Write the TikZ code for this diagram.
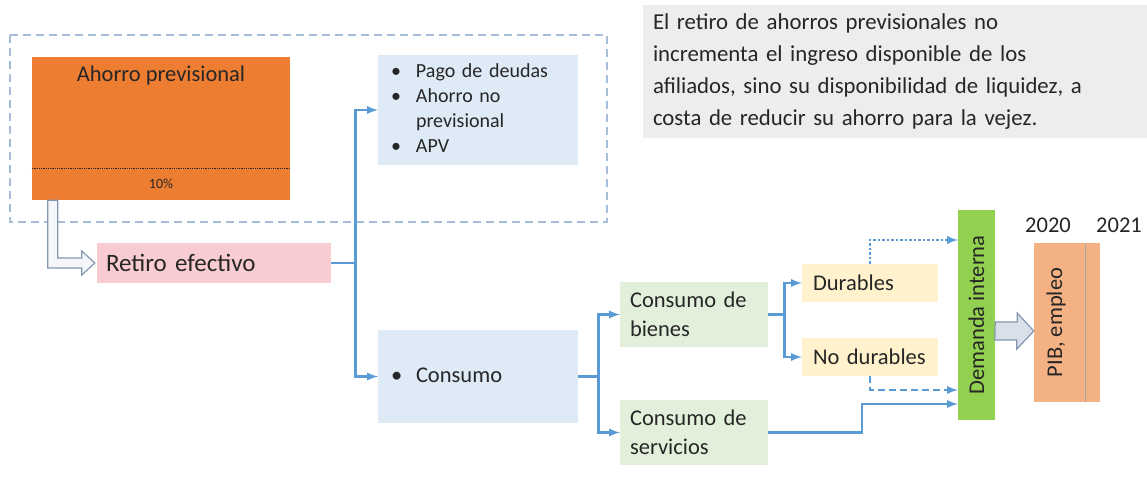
\documentclass[tikz,border=0pt]{standalone}
\usepackage{fontspec}
\setmainfont{Carlito}
\usepackage{xcolor}
\usetikzlibrary{positioning}
\usetikzlibrary{calc}
\definecolor{AHORRO-ORANGE}{HTML}{ED7D31}
\definecolor{RETIRO-PINK}{HTML}{F9CCD1}
\definecolor{DESTINO-BLUE}{HTML}{DEEBF7}
\definecolor{BIENES-GREEN}{HTML}{E2EFDA}
\definecolor{DURABLE-YELLOW}{HTML}{FFF2CC}
\definecolor{DEMANDA-GREEN}{HTML}{92D050}
\definecolor{PIB-ORANGE}{HTML}{F4B183}
\definecolor{NOTA-GRAY}{HTML}{EDEDED}
\definecolor{FLUJO-BLUE}{HTML}{5B9BD5}
\definecolor{MARCO-BLUE}{HTML}{A7BCD6}
\definecolor{HUECA-LINE}{HTML}{8497B0}
\definecolor{HUECA-FILL}{HTML}{D9E0EA}
\definecolor{HUECA-WHITE}{HTML}{F4F6F9}
\definecolor{TEXTO}{HTML}{262626}

\tikzset{
  caja/.style={rectangle,inner ysep=0pt,align=left,text=TEXTO},
  flujo/.style={->,draw=FLUJO-BLUE,line width=2.6pt},
  hueca/.style={draw=HUECA-LINE,fill=HUECA-FILL,line width=1.2pt,line join=miter}
}

\begin{document}
\begin{tikzpicture}[x=1pt,y=-1pt,every path/.style={>=latex},font=\fontsize{22.5}{29}\selectfont]
			\useasboundingbox (0,0) rectangle (1147,484);

			% draw frame
			\draw[MARCO-BLUE,line width=1.4pt,dash pattern=on 8pt off 5pt] (10,35) rectangle (607,222);

			% draw nodes
			\node (nota) at (895,71.5) [caja,fill=NOTA-GRAY,minimum height=133,text width=484,inner xsep=10,font=\fontsize{22.8}{32}\selectfont] {El retiro de ahorros previsionales no\\incrementa el ingreso disponible de los\\afiliados, sino su disponibilidad de liquidez, a\\costa de reducir su ahorro para la vejez.};
			\node (ahorro) at (161,128.5) [caja,fill=AHORRO-ORANGE,minimum width=258,minimum height=143] {};
			\node (ahorro_tit) at ($(ahorro.north)+(0,19)$) [text=TEXTO] {Ahorro previsional};
			\node (ahorro_pct) at ($(ahorro.south)+(0,-16)$) [text=TEXTO,font=\fontsize{14}{16}\selectfont] {10\%};
			\node (retiro) at (214,263) [caja,fill=RETIRO-PINK,minimum height=40,text width=216,inner xsep=9,font=\fontsize{25}{29}\selectfont] {Retiro efectivo};
			\node (destinos) at (478,110) [caja,fill=DESTINO-BLUE,minimum height=110,text width=174,inner xsep=13,font=\fontsize{20}{25}\selectfont] {%
				\begin{tabular}{@{}p{25pt}@{}l@{}}
				\textbullet & Pago de deudas\\
				\textbullet & Ahorro no\\
				            & previsional\\
				\textbullet & APV
				\end{tabular}};
			\node (consumo) at (478,376.5) [caja,fill=DESTINO-BLUE,minimum height=93,text width=174,inner xsep=13] {%
				\begin{tabular}{@{}p{25pt}@{}l@{}}
				\textbullet & Consumo
				\end{tabular}};
			\node (bienes) at (694,314.5) [caja,fill=BIENES-GREEN,minimum height=65,text width=128,inner xsep=10] {Consumo de\\bienes};
			\node (servicios) at (694,432.5) [caja,fill=BIENES-GREEN,minimum height=65,text width=128,inner xsep=10] {Consumo de\\servicios};
			\node (durables) at (870,283) [caja,fill=DURABLE-YELLOW,minimum height=38,text width=114,inner xsep=11] {Durables};
			\node (nodurables) at (870,357) [caja,fill=DURABLE-YELLOW,minimum height=38,text width=114,inner xsep=11] {No durables};
			\node (demanda) at (976.5,315) [caja,fill=DEMANDA-GREEN,minimum width=37,minimum height=210] {};
			\node (demanda_txt) at (demanda.center) [rotate=90,text=TEXTO] {Demanda interna};
			\node (pib) at (1067,322.5) [caja,fill=PIB-ORANGE,minimum width=66,minimum height=159] {};
			\node (pib_txt) at ($(pib.center)+(-11,0)$) [rotate=90,text=TEXTO] {PIB, empleo};
			\node (anio_a) at (1048,225) [text=TEXTO] {2020};
			\node (anio_b) at (1119,225) [text=TEXTO] {2021};

			% draw dividers
			\draw[densely dotted,TEXTO,line width=0.8pt] ($(ahorro.south west)+(0,-32)$) -- ($(ahorro.south east)+(0,-32)$);
			\draw[gray!70,line width=0.8pt] ($(pib.north east)+(-15,0)$) -- ($(pib.south east)+(-15,0)$);

			% draw arrows
			\draw[hueca,fill=HUECA-WHITE] ($(ahorro.south west)+(16,0)$) |- ($(retiro.west)+(-15,5)$) -- ++(0,7) -- ($(retiro.west)+(-2,0)$) -- ++(-13,-12) -- ++(0,7) -| ($(ahorro.south west)+(26,0)$) -- cycle;
			\draw[hueca] ($(demanda.east)+(0,7)$) -- ++(22,0) -- ++(0,-9) -- ($(pib.west)+(0,8.5)$) -- ++(-17,18) -- ++(0,-9) -- ++(-22,0) -- cycle;

			\draw[flujo] (retiro.east) -- ++(24,0) |- (destinos.west);
			\draw[flujo] (retiro.east) -- ++(24,0) |- (consumo.west);
			\draw[flujo] (consumo.east) -- ++(20,0) |- (bienes.west);
			\draw[flujo] (consumo.east) -- ++(20,0) |- (servicios.west);
			\draw[flujo] (bienes.east) -- ++(16,0) |- (durables.west);
			\draw[flujo] (bienes.east) -- ++(16,0) |- (nodurables.west);
			\draw[flujo,dash pattern=on 2.5pt off 2pt] (durables.north) |- ($(demanda.west)+(0,-75)$);
			\draw[flujo,dash pattern=on 7pt off 4pt] (nodurables.south) |- ($(demanda.west)+(0,75)$);
			\coordinate (codo) at (862,404);
			\draw[flujo] (servicios.east) -| (codo) -- (codo -| demanda.west);
		\end{tikzpicture}
\end{document}
